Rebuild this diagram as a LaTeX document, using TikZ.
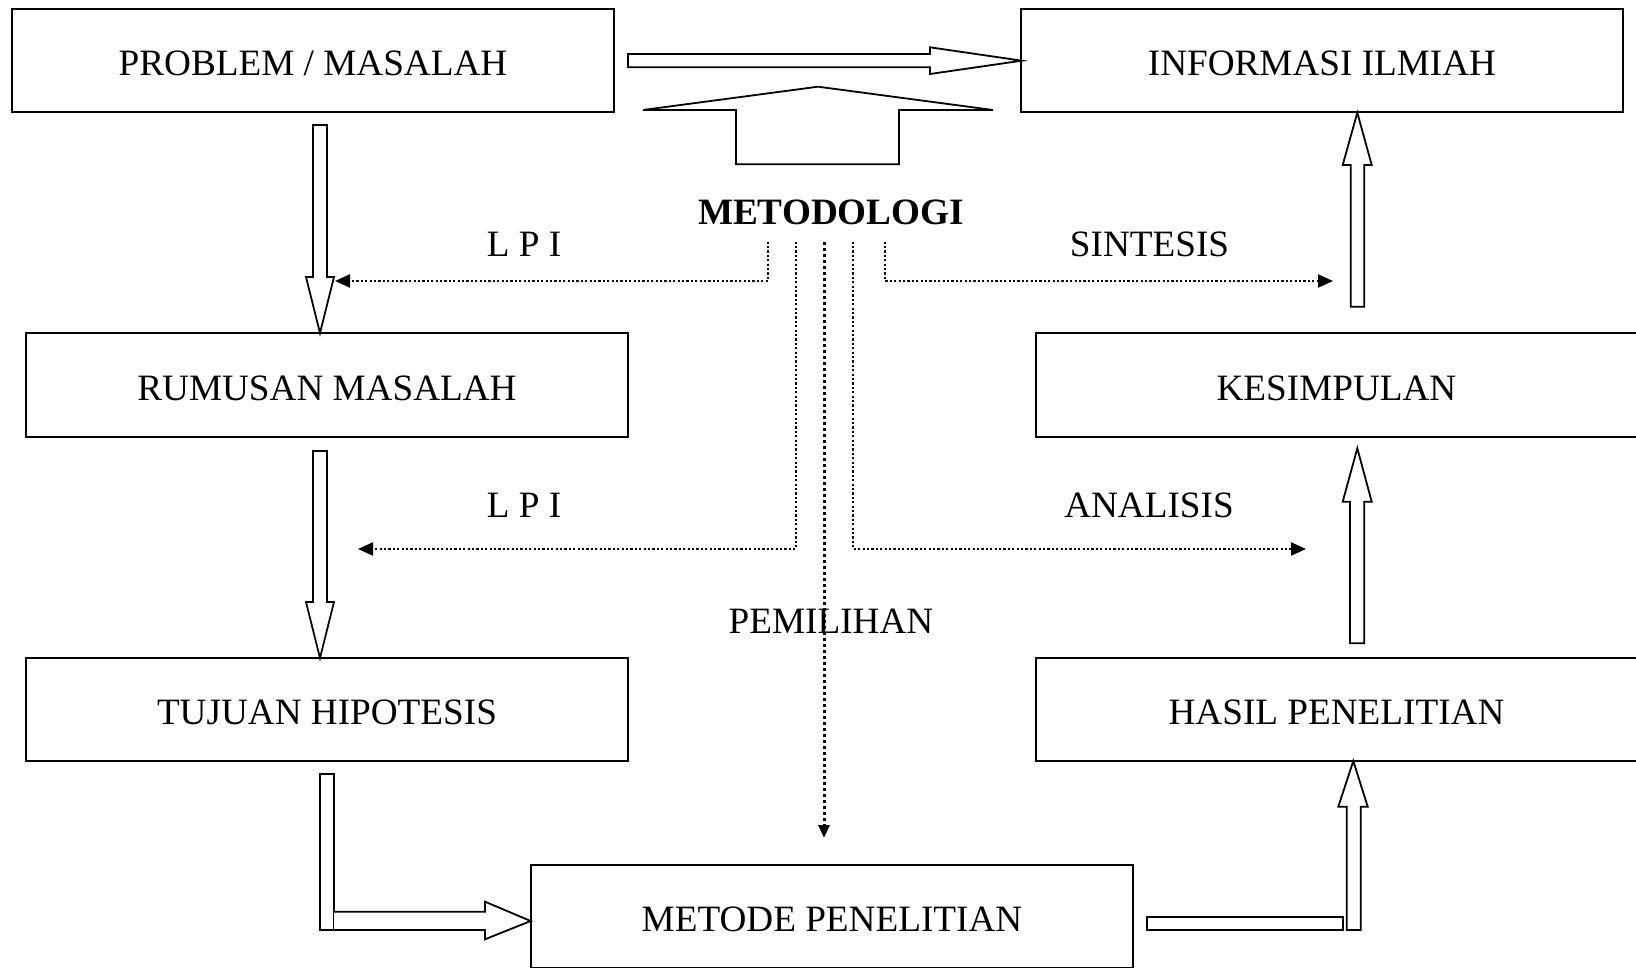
\documentclass[tikz,border=0pt]{standalone}
\usepackage{fontspec}
\setmainfont{Liberation Serif}
\usetikzlibrary{arrows.meta}

\tikzset{
  box/.style={draw, line width=2pt, minimum width=602pt, minimum height=103pt, inner sep=0pt, text height=30.6pt, text depth=0pt},
  blockarrow/.style={draw, line width=1.8pt, fill=white, line join=miter},
  dotline/.style={line width=2.2pt, dash pattern=on 2.2pt off 2.2pt, -{Triangle[length=15pt,width=13pt]}},
  dotmain/.style={line width=3pt, dash pattern=on 3pt off 3pt, -{Triangle[length=13pt,width=11pt]}}
}

\begin{document}
\begin{tikzpicture}[x=1pt, y=-1pt, every node/.style={font=\fontsize{37.2}{44}\selectfont, inner sep=0pt}]
\useasboundingbox (0,0) rectangle (1636,968);
\clip (0,0) rectangle (1636,968);

% Boxes
\node[box] (problem) at (313,60.5) {PROBLEM / MASALAH};
\node[box] (informasi) at (1322,60.5) {INFORMASI ILMIAH};
\node[box] (rumusan) at (327,385) {RUMUSAN MASALAH};
\node[box] (kesimpulan) at (1336.5,385) {KESIMPULAN};
\node[box] (tujuan) at (327,709.5) {TUJUAN HIPOTESIS};
\node[box] (hasil) at (1336.5,709.5) {HASIL PENELITIAN};
\node[box] (metode) at (832,916.5) {METODE PENELITIAN};

% Labels
\node[font=\fontsize{37.2}{44}\selectfont\bfseries] (metodologi) at (831,212) {METODOLOGI};
\node (lpiA) at (524,244) {L P I};
\node (sintesis) at (1149.5,244) {SINTESIS};
\node (lpiB) at (524,505) {L P I};
\node (analisis) at (1149,505) {ANALISIS};
\node (pemilihan) at (831,621) {PEMILIHAN};

% Hollow arrows
\draw[blockarrow] (628,54) -- (930,54) -- (930,47.3) -- (1021.7,60.7) -- (930,74) -- (930,67.3) -- (628,67.3) -- cycle;
\draw[blockarrow] (643,110) -- (818,86.7) -- (993,110) -- (899,110) -- (899,164.3) -- (736,164.3) -- (736,110) -- cycle;
\draw[blockarrow] (313,125) -- (327,125) -- (327,277) -- (334,277) -- (320,333) -- (306,277) -- (313,277) -- cycle;
\draw[blockarrow] (313,451) -- (327,451) -- (327,602) -- (334,602) -- (320,658) -- (306,602) -- (313,602) -- cycle;
% Tujuan to Metode
\draw[blockarrow] (320,774) rectangle (334,930);
\draw[blockarrow] (334,911.7) -- (485,911.7) -- (485,901.7) -- (530.7,921) -- (485,939.3) -- (485,930) -- (334,930);
% Metode to Hasil
\draw[blockarrow] (1146.7,916.7) rectangle (1343.3,930);
\draw[blockarrow] (1346.7,930) -- (1346.7,806.7) -- (1338.3,806.7) -- (1353.3,761) -- (1367.7,806.7) -- (1360.7,806.7) -- (1360.7,930) -- cycle;
% Hasil to Kesimpulan, Kesimpulan to Informasi
\draw[blockarrow] (1350,643.3) -- (1350,501.7) -- (1342.7,501.7) -- (1357.3,448.3) -- (1371.7,501.7) -- (1364.3,501.7) -- (1364.3,643.3) -- cycle;
\draw[blockarrow] (1350.7,306.7) -- (1350.7,165) -- (1342.7,165) -- (1357.3,112.7) -- (1371.7,165) -- (1364.3,165) -- (1364.3,306.7) -- cycle;

% Dotted connectors from Metodologi
\coordinate (lpiAend) at (335,281);
\coordinate (lpiBend) at (358,549);
\coordinate (pemilihanend) at (824,838);
\coordinate (analisisend) at (1306,549);
\coordinate (sintesisend) at (1333,281);
\draw[dotline] ([xshift=-63pt,yshift=-17pt]metodologi.south) |- (lpiAend);
\draw[dotline] ([xshift=-35pt,yshift=-17pt]metodologi.south) |- (lpiBend);
\draw[dotmain] ([xshift=-7pt,yshift=-17pt]metodologi.south) -- (pemilihanend);
\draw[dotline] ([xshift=22pt,yshift=-17pt]metodologi.south) |- (analisisend);
\draw[dotline] ([xshift=54pt,yshift=-17pt]metodologi.south) |- (sintesisend);
\end{tikzpicture}
\end{document}
